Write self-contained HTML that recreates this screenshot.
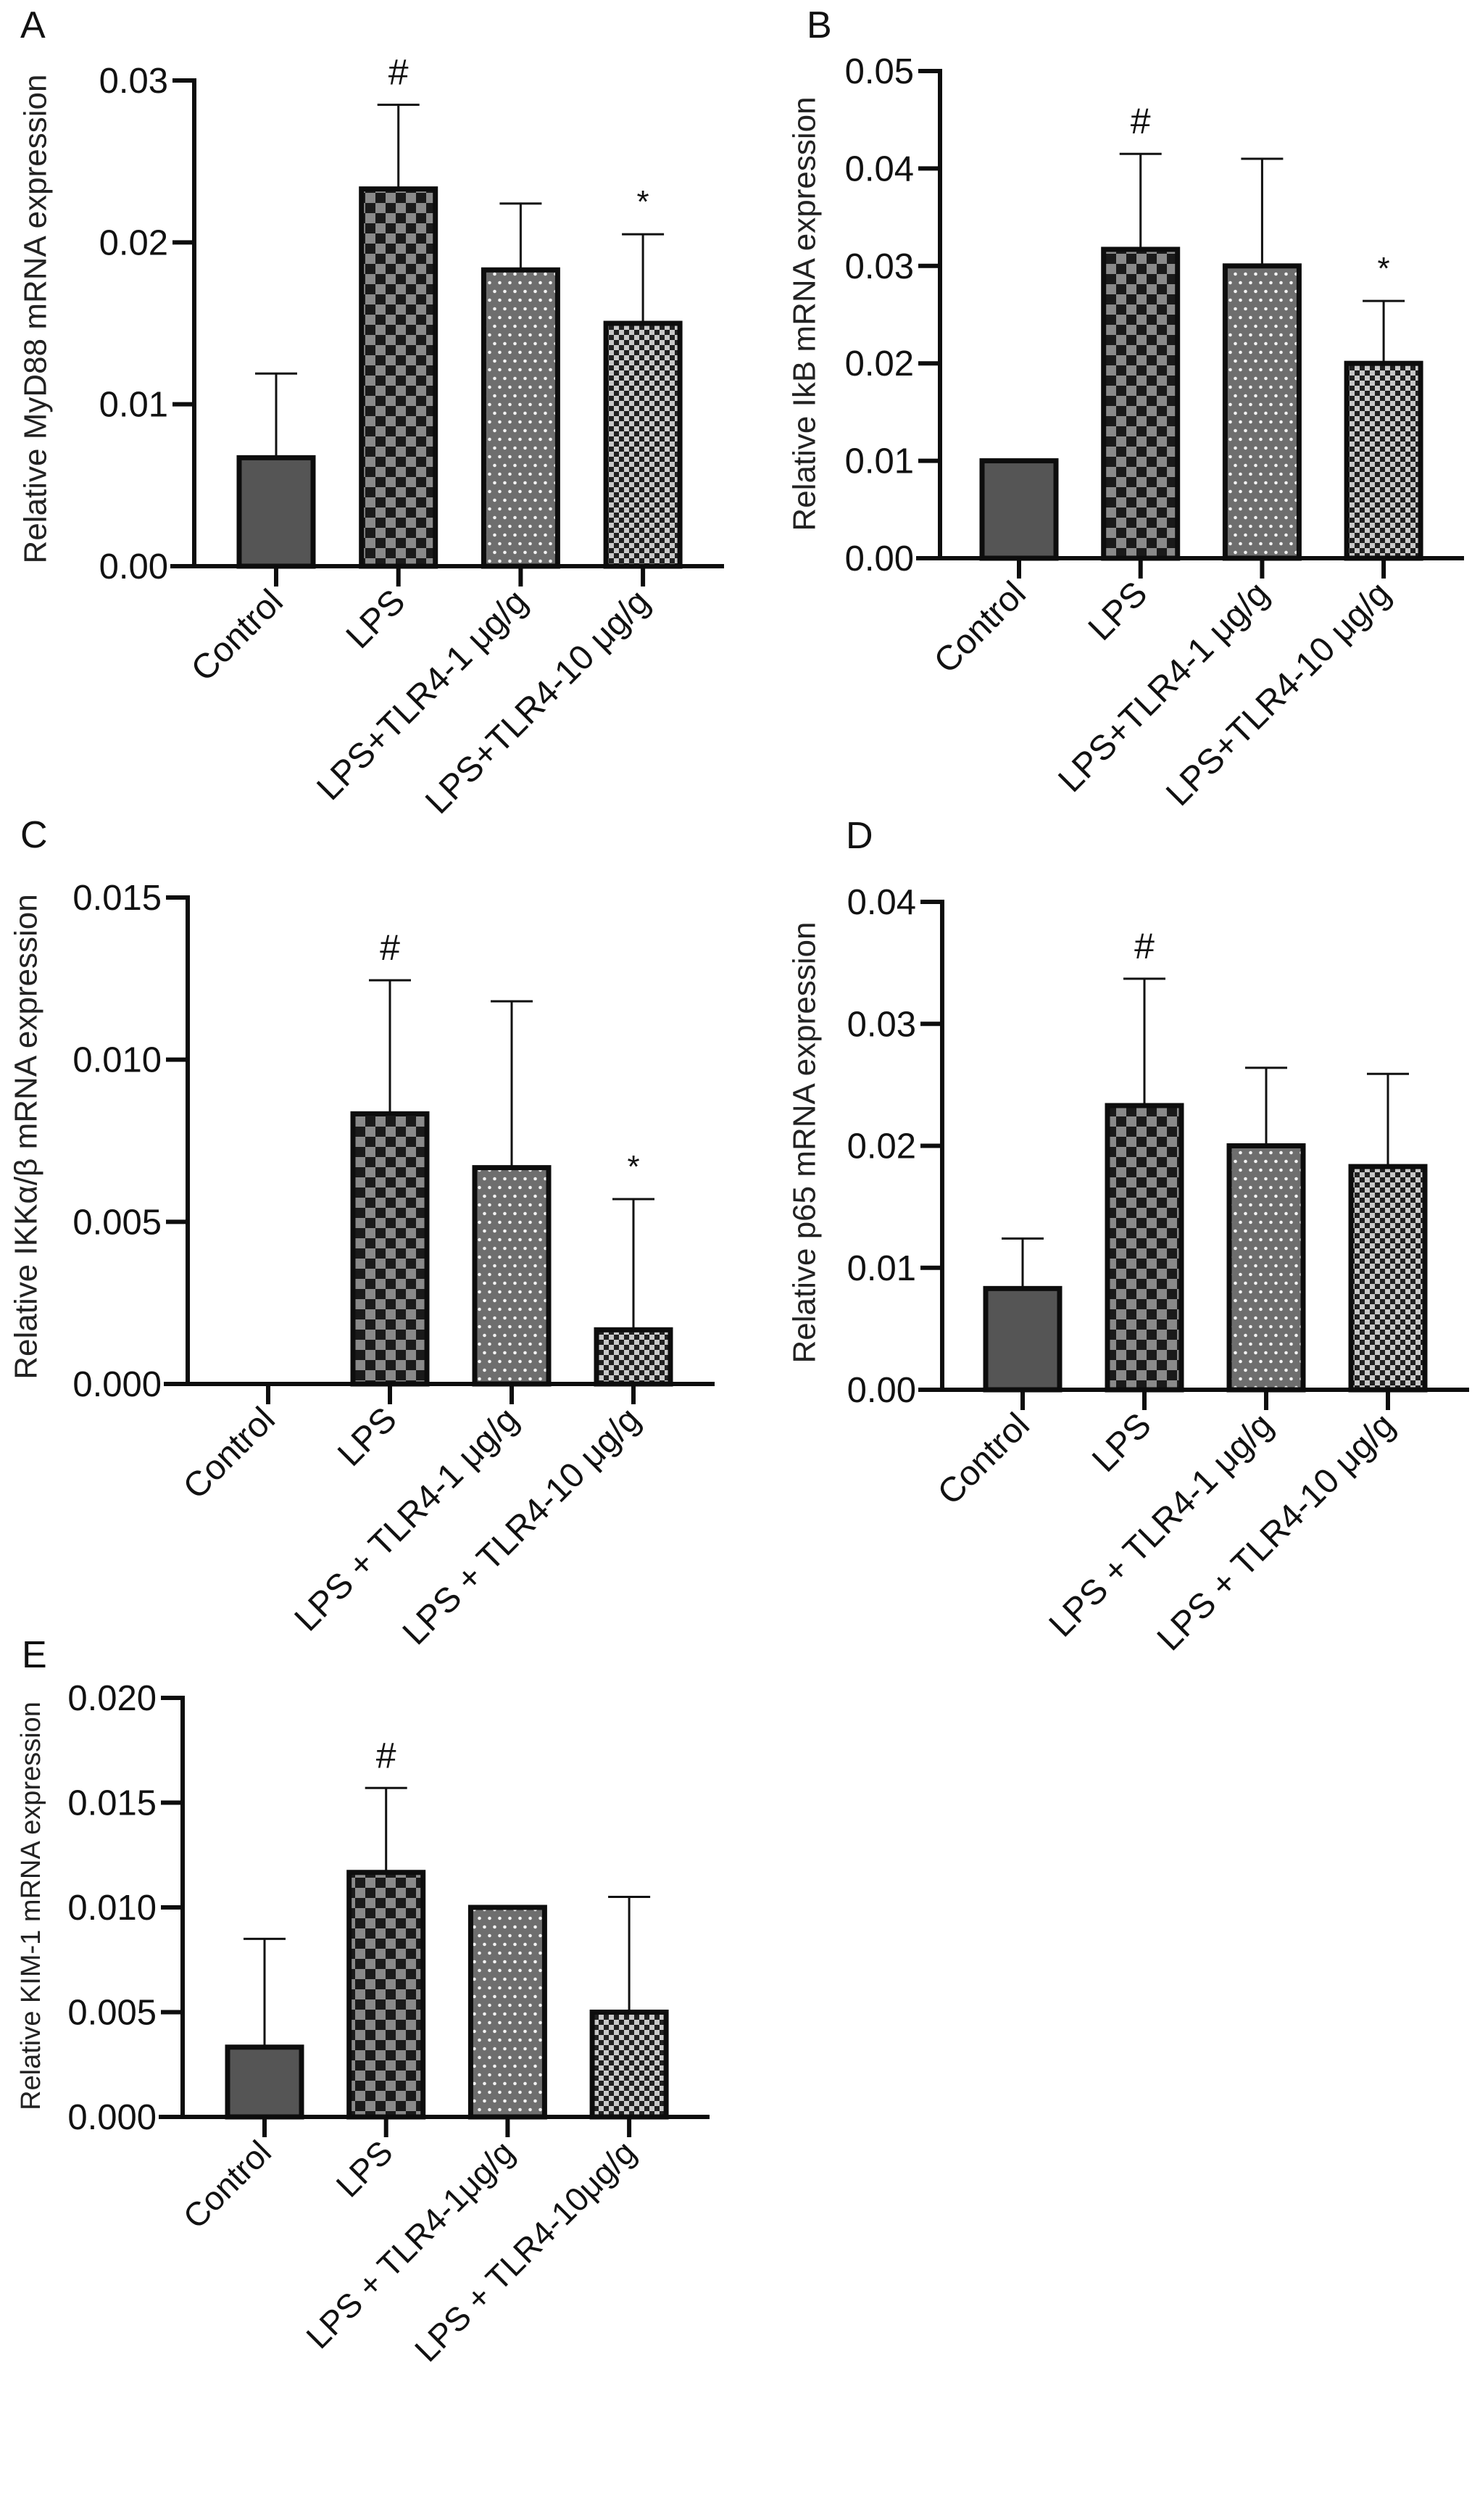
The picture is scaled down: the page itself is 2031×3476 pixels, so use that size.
<!DOCTYPE html>
<html><head><meta charset="utf-8"><style>
html,body{margin:0;padding:0;background:#fff;}
svg{display:block;font-family:"Liberation Sans",Arial,sans-serif;}
</style></head><body>
<svg id="fig" width="2031" height="3476" viewBox="0 0 2031 3476" xmlns="http://www.w3.org/2000/svg">
<defs>
<pattern id="pLPS" width="28" height="28" patternUnits="userSpaceOnUse">
<rect width="28" height="28" fill="#8a8a8a"/><rect width="14" height="14" fill="#1a1a1a"/><rect x="14" y="14" width="14" height="14" fill="#1a1a1a"/>
</pattern>
<pattern id="pT1" width="14" height="24" patternUnits="userSpaceOnUse">
<rect width="14" height="24" fill="#6e6e6e"/><circle cx="3.5" cy="6" r="2.3" fill="#f2f2f2"/><circle cx="10.5" cy="18" r="2.3" fill="#f2f2f2"/>
</pattern>
<pattern id="pT10" width="14" height="14" patternUnits="userSpaceOnUse">
<rect width="14" height="14" fill="#c8c8c8"/><rect width="7" height="7" fill="#202020"/><rect x="7" y="7" width="7" height="7" fill="#202020"/>
</pattern>
</defs>
</svg>
<script>
// Panel data arrays
const categoriesAB = ["Control","LPS","LPS+TLR4-1 μg/g","LPS+TLR4-10 μg/g"];
const categoriesCD = ["Control","LPS","LPS + TLR4-1 μg/g","LPS + TLR4-10 μg/g"];
const categoriesE = ["Control","LPS","LPS + TLR4-1μg/g","LPS + TLR4-10μg/g"];
const meanA = [0.0067,0.0233,0.0183,0.0150];
const errA  = [0.0119,0.0285,0.0224,0.0205];
const meanB = [0.0100,0.0317,0.0300,0.0200];
const errB  = [null,0.0415,0.0410,0.0264];
const meanC = [0,0.00833,0.00667,0.00167];
const errC  = [null,0.01245,0.0118,0.0057];
const meanD = [0.0083,0.0233,0.0200,0.0183];
const errD  = [0.0124,0.0337,0.0264,0.0259];
const meanE = [0.00333,0.01167,0.0100,0.0050];
const errE  = [0.0085,0.0157,null,0.0105];
const ticksA = ["0.00","0.01","0.02","0.03"];
const ticksB = ["0.00","0.01","0.02","0.03","0.04","0.05"];
const ticksC = ["0.000","0.005","0.010","0.015"];
const ticksD = ["0.00","0.01","0.02","0.03","0.04"];
const ticksE = ["0.000","0.005","0.010","0.015","0.020"];
const marksA = ["","#","","*"];
const marksB = ["","#","","*"];
const marksC = ["","#","","*"];
const marksD = ["","#","",""];
const marksE = ["","#","",""];

const NS="http://www.w3.org/2000/svg";
const svg=document.getElementById('fig');
const fills=["#555555","url(#pLPS)","url(#pT1)","url(#pT10)"];
function mk(tag,attrs,parent){const e=document.createElementNS(NS,tag);for(const k in attrs)e.setAttribute(k,attrs[k]);(parent||svg).appendChild(e);return e;}

function panel(cfg){
  const g=mk('g',{});
  
  
  const maxV=parseFloat(cfg.ticks[cfg.ticks.length-1]);
  const y=v=>cfg.y0-(v/maxV)*(cfg.y0-cfg.yTop);
  const x=i=>cfg.c0+i*cfg.step;
  // letter
  const L=mk('text',{x:cfg.lx,y:cfg.ly,'font-size':52,fill:'#111'},g);L.textContent=cfg.letter;
  
  
  // y title
  const T=mk('text',{x:cfg.tx,y:cfg.ty,'font-size':cfg.tfs,fill:'#222','text-anchor':'middle','dominant-baseline':'central',transform:`rotate(-90 ${cfg.tx} ${cfg.ty})`},g);T.textContent=cfg.title;
  
  
  // bars
  cfg.mean.forEach((v,i)=>{
    const cx=x(i);
    if(v>0){
      const r=mk('rect',{x:cx-51,y:y(v),width:102,height:cfg.y0-y(v),fill:fills[i],stroke:'#0d0d0d','stroke-width':7},g);
      
      
    }
    const e=cfg.err[i];
    if(e!=null){
      const eg=mk('g',{stroke:'#111','stroke-width':3},g);
      
      
      mk('line',{x1:cx,x2:cx,y1:y(v)-3,y2:y(e)},eg);
      mk('line',{x1:cx-29,x2:cx+29,y1:y(e),y2:y(e)},eg);
    }
    const m=cfg.marks[i];
    if(m){
      const top=y(e!=null?e:v);
      const t=mk('text',{x:cx,y:m==='#'?top-28:top-30,'font-size':m==='#'?50:44,'text-anchor':'middle',fill:'#111'},g);t.textContent=m;
      
      
    }
  });
  // axes
  const ax=mk('g',{stroke:'#0d0d0d','stroke-width':6,fill:'none'},g);
  
  
  mk('line',{x1:cfg.x0,x2:cfg.x0,y1:cfg.yTop-3,y2:cfg.y0+3},ax);
  mk('line',{x1:cfg.x0-33,x2:cfg.xEnd,y1:cfg.y0,y2:cfg.y0},ax);
  cfg.ticks.forEach(t=>{
    const yy=y(parseFloat(t));
    mk('line',{x1:cfg.x0-30,x2:cfg.x0,y1:yy,y2:yy},ax);
    const tl=mk('text',{x:cfg.x0-36,y:yy+17,'font-size':cfg.tkfs,'text-anchor':'end',fill:'#111'},g);tl.textContent=t;
    
    
  });
  cfg.cats.forEach((c,i)=>{
    const cx=x(i);
    mk('line',{x1:cx,x2:cx,y1:cfg.y0,y2:cfg.y0+28},ax);
    const ex=cx+12,ey=cfg.y0+52;
    const xl=mk('text',{x:ex,y:ey,'font-size':cfg.xfs,'text-anchor':'end',fill:'#111',transform:`rotate(-45 ${ex} ${ey})`},g);xl.textContent=c;
    
    
  });
}

panel({letter:'A',lx:28,ly:52,title:'Relative MyD88 mRNA expression',tx:49,ty:440,tfs:44,tkfs:49,xfs:48,
  x0:268,y0:781,yTop:111,xEnd:999,c0:381,step:168.7,mean:meanA,err:errA,ticks:ticksA,cats:categoriesAB,marks:marksA});
panel({letter:'B',lx:1113,ly:52,title:'Relative IkB mRNA expression',tx:1110,ty:433,tfs:44,tkfs:49,xfs:48,
  x0:1297,y0:770,yTop:98,xEnd:2020,c0:1406,step:167.7,mean:meanB,err:errB,ticks:ticksB,cats:categoriesAB,marks:marksB});
panel({letter:'C',lx:28,ly:1169,title:'Relative IKKα/β mRNA expression',tx:36,ty:1568,tfs:44,tkfs:49,xfs:48,
  x0:259,y0:1909,yTop:1238,xEnd:986,c0:370,step:168,mean:meanC,err:errC,ticks:ticksC,cats:categoriesCD,marks:marksC});
panel({letter:'D',lx:1167,ly:1170,title:'Relative p65 mRNA expression',tx:1110,ty:1576,tfs:44,tkfs:49,xfs:48,
  x0:1300,y0:1917,yTop:1244,xEnd:2027,c0:1411,step:168,mean:meanD,err:errD,ticks:ticksD,cats:categoriesCD,marks:marksD});
panel({letter:'E',lx:30,ly:2300,title:'Relative KIM-1 mRNA expression',tx:43,ty:2629,tfs:38,tkfs:49,xfs:46,
  x0:252,y0:2920,yTop:2342,xEnd:979,c0:365,step:167.7,mean:meanE,err:errE,ticks:ticksE,cats:categoriesE,marks:marksE});
</script>
</body></html>
